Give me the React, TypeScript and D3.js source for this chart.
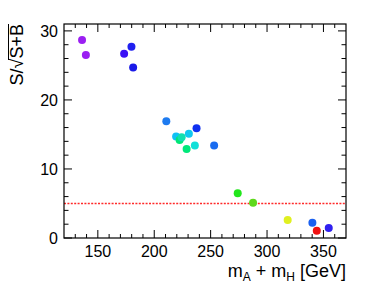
import * as d3 from "d3";

const massSum = [136, 139.4, 173.3, 179.8, 181.3, 210.7, 219.4, 222.5, 224.3, 230.7, 237.5, 228.7, 236, 253.1, 274, 287.6, 318.3, 340.2, 344.1, 354.7];
const significance = [28.7, 26.5, 26.7, 27.7, 24.7, 16.9, 14.7, 14.2, 14.6, 15.1, 15.9, 12.9, 13.4, 13.4, 6.5, 5.1, 2.6, 2.2, 1.06, 1.45];
const pointColors = [
  "#9b1ff2", "#9b1ff2", "#3a10f5", "#2020f0", "#1a1ae8", "#1e7bf0", "#10c0f5",
  "#00e676", "#10e0b0", "#10c8f0", "#1030f0", "#00e87a", "#10e0d8", "#1a6cf0",
  "#22e61c", "#5ed81c", "#e0f020", "#1a60f0", "#f01010", "#3020f0",
];
const xTickLabels = [150, 200, 250, 300, 350];
const yTickLabels = [0, 10, 20, 30];
const threshold = 5;

const W = 376;
const H = 291;
const left = 64;
const right = 346;
const top = 24;
const bottom = 238;
const font = "Liberation Sans, Arial, sans-serif";

export default function App() {
  const x = d3.scaleLinear().domain([120, 370]).range([left, right]);
  const y = d3.scaleLinear().domain([0, 31]).range([bottom, top]);

  const xMinor = d3.range(130, 370, 10).filter((v) => v % 50 !== 0);
  const yMinor = d3.range(2, 31, 2).filter((v) => v % 10 !== 0);

  return (
    <svg width={W} height={H} style={{ position: "absolute", left: 0, top: 0, background: "#fff" }}>
      <rect x={0} y={0} width={W} height={H} fill="#fff" />
      {/* threshold line */}
      <line x1={left} x2={right} y1={y(threshold)} y2={y(threshold)} stroke="#ff2a2a" strokeWidth={1.5} strokeDasharray="2,1.4" />

      {/* points */}
      {massSum.map((m, i) => (
        <circle key={i} cx={x(m)} cy={y(significance[i])} r={4} fill={pointColors[i]} />
      ))}

      {/* frame */}
      <rect x={left} y={top} width={right - left} height={bottom - top} fill="none" stroke="#000" strokeWidth={1.2} />

      {/* x ticks */}
      {xTickLabels.map((v) => (
        <g key={"xt" + v}>
          <line x1={x(v)} x2={x(v)} y1={bottom} y2={bottom - 8} stroke="#000" />
          <line x1={x(v)} x2={x(v)} y1={top} y2={top + 8} stroke="#000" />
          <text x={x(v)} y={256.5} textAnchor="middle" fontFamily={font} fontSize={16}>{v}</text>
        </g>
      ))}
      {xMinor.map((v) => (
        <g key={"xm" + v}>
          <line x1={x(v)} x2={x(v)} y1={bottom} y2={bottom - 4} stroke="#000" />
          <line x1={x(v)} x2={x(v)} y1={top} y2={top + 4} stroke="#000" />
        </g>
      ))}

      {/* y ticks */}
      {yTickLabels.map((v) => (
        <g key={"yt" + v}>
          <line x1={left} x2={left + 8} y1={y(v)} y2={y(v)} stroke="#000" />
          <line x1={right} x2={right - 8} y1={y(v)} y2={y(v)} stroke="#000" />
          <text x={58} y={y(v) + 6} textAnchor="end" fontFamily={font} fontSize={16}>{v}</text>
        </g>
      ))}
      {yMinor.map((v) => (
        <g key={"ym" + v}>
          <line x1={left} x2={left + 4.5} y1={y(v)} y2={y(v)} stroke="#000" />
          <line x1={right} x2={right - 4.5} y1={y(v)} y2={y(v)} stroke="#000" />
        </g>
      ))}

      {/* axis titles */}
      <text x={right} y={277} textAnchor="end" fontFamily={font} fontSize={18}>
        m<tspan fontSize={12} dy={4}>A</tspan>
        <tspan dy={-4}> + m</tspan>
        <tspan fontSize={12} dy={4}>H</tspan>
        <tspan dy={-4}> [GeV]</tspan>
      </text>
      <g transform={`translate(23,${top}) rotate(-90)`}>
        <text x={0} y={0} textAnchor="end" fontFamily={font} fontSize={18}>
          S/√S+B
        </text>
        <line x1={-36} x2={0} y1={-14.5} y2={-14.5} stroke="#000" strokeWidth={1} />
      </g>
    </svg>
  );
}
